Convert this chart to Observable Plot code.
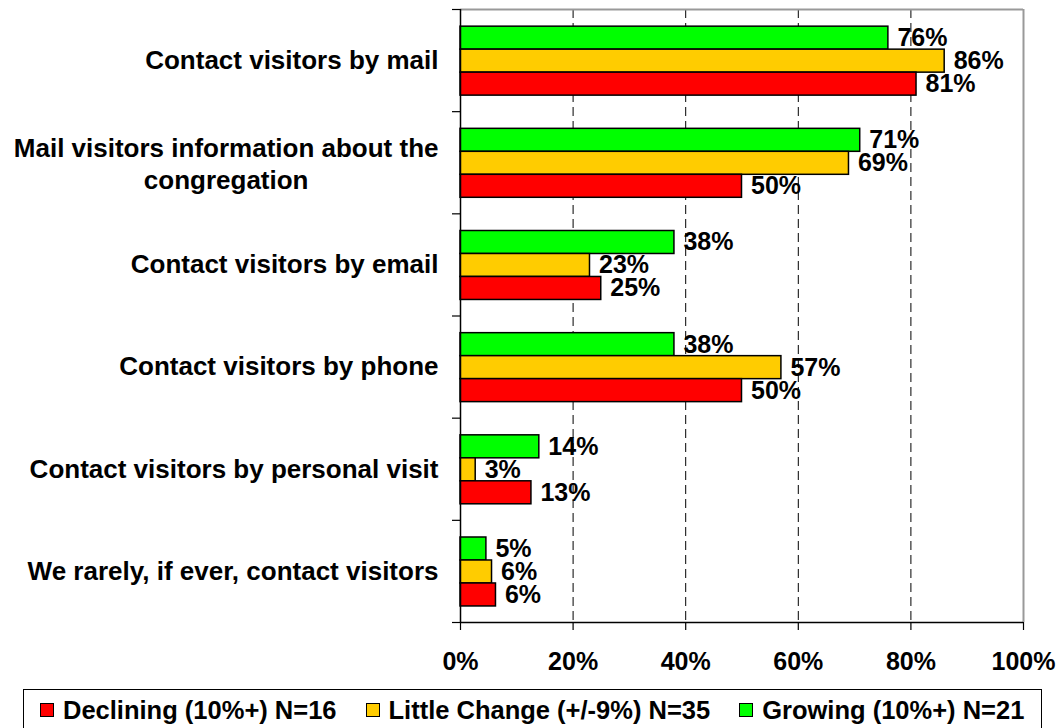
<!DOCTYPE html>
<html>
<head>
<meta charset="utf-8">
<script src="https://cdn.jsdelivr.net/npm/d3@7"></script>
<script src="https://cdn.jsdelivr.net/npm/@observablehq/plot@0.6"></script>
<style>
  html, body { margin: 0; padding: 0; overflow: hidden; background: #fff; }
  body { width: 1061px; height: 728px; font-family: "Liberation Sans", Arial, sans-serif; }
  #legend {
    margin: 5px 0 0 23px; width: 1019px; height: 60px; box-sizing: border-box;
    border: 1.5px solid #000; display: flex; align-items: flex-start; padding: 6px 0 0 16px;
    font-weight: bold; font-size: 25.5px; line-height: 28px; color: #000;
  }
  .item { display: flex; align-items: center; margin-right: 29px; white-space: nowrap; }
  .sw { width: 12px; height: 12px; border: 1px solid #000; margin-right: 9px; }
</style>
</head>
<body>
<div id="chart"></div>
<div id="legend"></div>
<script>
// ---- data ----
const categories = [
  "Contact visitors by mail",
  "Mail visitors information about the\ncongregation",
  "Contact visitors by email",
  "Contact visitors by phone",
  "Contact visitors by personal visit",
  "We rarely, if ever, contact visitors"
];
const growing      = [76, 71, 38, 38, 14, 4.6];
const littleChange = [86, 69, 23, 57, 2.7, 5.6];
const declining    = [81, 50, 25, 50, 12.6, 6.3];
const seriesNames  = ["Growing (10%+) N=21", "Little Change (+/-9%) N=35", "Declining (10%+) N=16"];
const xTicks = [0, 20, 40, 60, 80, 100];
const legendOrder = ["Declining (10%+) N=16", "Little Change (+/-9%) N=35", "Growing (10%+) N=21"];

// ---- styles ----
const colors = {
  "Growing (10%+) N=21": "#00FF00",
  "Little Change (+/-9%) N=35": "#FFCC00",
  "Declining (10%+) N=16": "#FF0000"
};
const FONT = '"Liberation Sans", Arial, sans-serif';
const W = 1061, H = 684;
const groupPad = 0.168, barH = 0.225;

const seriesValues = [growing, littleChange, declining];
const rows = [];
seriesNames.forEach((name, s) => {
  categories.forEach((cat, i) => {
    rows.push({series: name, s, i, cat, value: seriesValues[s][i]});
  });
});
const y1 = d => d.i + groupPad + d.s * barH;
const y2 = d => d.i + groupPad + (d.s + 1) * barH;

const barMarks = [];
seriesNames.forEach(name => {
  const data = rows.filter(d => d.series === name);
  barMarks.push(Plot.rect(data, {
    x1: 0, x2: "value", y1, y2,
    fill: colors[name], stroke: "#000", strokeWidth: 1.5
  }));
  barMarks.push(Plot.text(data, {
    x: "value", y: d => (y1(d) + y2(d)) / 2,
    text: d => Math.round(d.value) + "%",
    textAnchor: "start", dx: 9, fontSize: 25, fontWeight: "bold", fill: "#000"
  }));
});

// measure first line of the wrapped label to centre the second line under it
const ctx = document.createElement("canvas").getContext("2d");
ctx.font = `bold 26px ${FONT}`;
const catIdx = categories.map((c, i) => ({c, i}));
const single = catIdx.filter(d => !d.c.includes("\n"));
const multi = catIdx.filter(d => d.c.includes("\n"));
const multiW = multi.length ? ctx.measureText(multi[0].c.split("\n")[0]).width : 0;

const boundaries = d3.range(categories.length + 1);

const chart = Plot.plot({
  width: W, height: H,
  marginLeft: 460, marginRight: 38, marginTop: 9, marginBottom: H - 622,
  style: {fontFamily: FONT, fontWeight: "bold", background: "#fff", color: "#000"},
  x: {domain: [0, 100], label: null},
  y: {domain: [0, categories.length], reverse: true, label: null},
  marks: [
    Plot.ruleX([20, 40, 60, 80], {y1: 0, y2: categories.length, stroke: "#000", strokeWidth: 1, strokeDasharray: "9,5"}),
    Plot.ruleY([0], {x1: 0, x2: 100, stroke: "#999", strokeWidth: 2}),
    Plot.ruleX([100], {y1: 0, y2: categories.length, stroke: "#999", strokeWidth: 2}),
    ...barMarks,
    Plot.ruleX([0], {y1: 0, y2: categories.length, stroke: "#000", strokeWidth: 1.5}),
    Plot.ruleY([categories.length], {x1: 0, x2: 100, stroke: "#000", strokeWidth: 1.5}),
    Plot.axisX(xTicks, {tickSize: 8, tickPadding: 22, tickFormat: d => d + "%", fontSize: 25, fontWeight: "bold", label: null, strokeWidth: 1.2}),
    Plot.axisY(boundaries, {tickSize: 8, tickFormat: () => "", label: null, strokeWidth: 1.2}),
    Plot.text(single, {x: 0, y: d => d.i + 0.5, text: "c", textAnchor: "end", dx: -22, fontSize: 26, fontWeight: "bold", fill: "#000"}),
    Plot.text(multi, {x: 0, y: d => d.i + 0.5, text: "c", textAnchor: "middle", dx: -22 - multiW / 2, lineHeight: 1.23, fontSize: 26, fontWeight: "bold", fill: "#000"})
  ]
});
document.getElementById("chart").appendChild(chart);

// legend
const legend = document.getElementById("legend");
legendOrder.forEach(name => {
  const item = document.createElement("div");
  item.className = "item";
  const sw = document.createElement("span");
  sw.className = "sw";
  sw.style.background = colors[name];
  const t = document.createElement("span");
  t.textContent = name;
  item.appendChild(sw);
  item.appendChild(t);
  legend.appendChild(item);
});
</script>
</body>
</html>
